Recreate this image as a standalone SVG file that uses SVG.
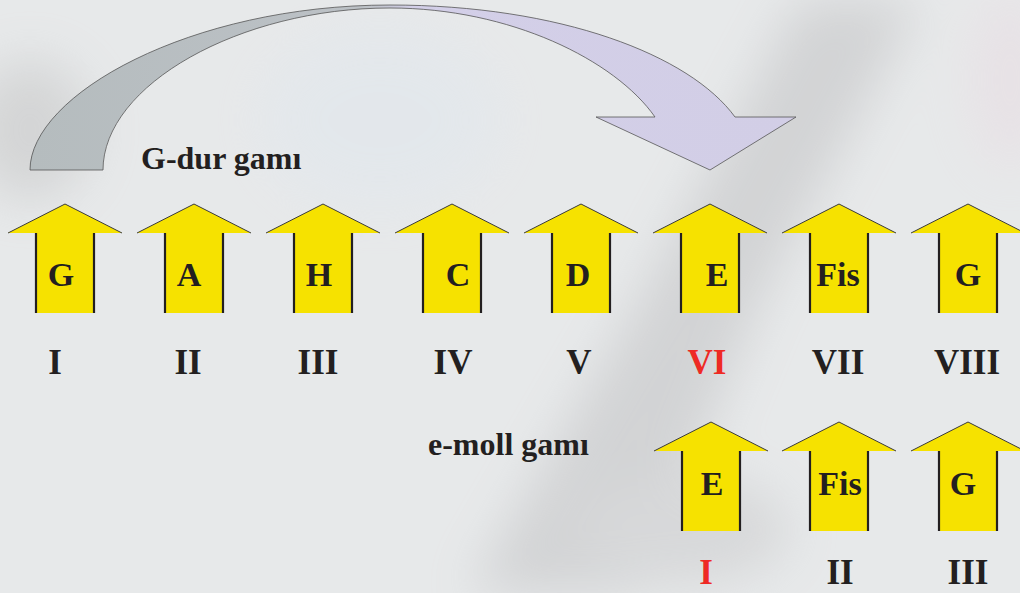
<svg xmlns="http://www.w3.org/2000/svg" width="1020" height="593" viewBox="0 0 1020 593">
<style>
.note{font-family:"Liberation Serif","Times New Roman",serif;font-weight:bold;font-size:34px;fill:#231f20;text-anchor:middle}
.num{font-family:"Liberation Serif","Times New Roman",serif;font-weight:bold;font-size:35px;fill:#231f20;text-anchor:middle}
.red{fill:#ee2a24}
.title{font-family:"Liberation Serif","Times New Roman",serif;font-weight:bold;font-size:32px;fill:#231f20}
.body{fill:#f6e200}
.head{fill:none;stroke:#3a3a3a;stroke-width:1}
.side{fill:none;stroke:#231f20;stroke-width:2.2}
</style>
<defs>
<filter id="blur" x="-50%" y="-50%" width="200%" height="200%"><feGaussianBlur stdDeviation="25"/></filter>
<linearGradient id="curve" x1="30" y1="0" x2="797" y2="0" gradientUnits="userSpaceOnUse">
<stop offset="0" stop-color="#b5bcbe"/>
<stop offset="0.44" stop-color="#bcc1c6"/>
<stop offset="0.5" stop-color="#d3cfe8"/>
<stop offset="1" stop-color="#d2cee6"/>
</linearGradient>
<g id="up">
<path class="body" d="M-57,29 L0,0 L57,29 L29,29 L29,109 L-29,109 L-29,29 Z"/>
<path class="head" d="M-57,29 L0,0 L57,29"/>
<path class="side" d="M-29,29 L-29,109 M29,29 L29,109"/>
</g>
</defs>
<g id="background">
<rect width="1020" height="593" fill="#e7e9ea"/>
<g filter="url(#blur)" opacity="0.45">
<path d="M470,593 L640,300 L800,0 L920,0 L760,300 L640,593 Z" fill="#b9b9bb"/>
<ellipse cx="30" cy="130" rx="60" ry="70" fill="#bdbdbd"/>
<ellipse cx="680" cy="530" rx="110" ry="55" fill="#c4c4c6"/>
<ellipse cx="1010" cy="80" rx="40" ry="90" fill="#e8d8e0"/>
<ellipse cx="380" cy="120" rx="120" ry="90" fill="#dfe6ee"/>
</g>
</g>
<g id="curved-arrow">
<path d="M30,170 C30,95 190,5 390,5 C560,5 690,55 735,117 L796,117 L710,170 L596,117 L655,117 C615,60 510,8 390,8 C240,8 103,85 103,170 Z" fill="url(#curve)" stroke="#555" stroke-width="0.8"/>
</g>
<text id="g-dur-title" class="title" x="141" y="169">G-dur gamı</text>
<text id="e-moll-title" class="title" x="428" y="455">e-moll gamı</text>
<g id="gdur-1"><use href="#up" x="65" y="204"/><text class="note" x="61" y="286">G</text><text class="num" x="55" y="374">I</text></g>
<g id="gdur-2"><use href="#up" x="194" y="204"/><text class="note" x="189" y="286">A</text><text class="num" x="188" y="374">II</text></g>
<g id="gdur-3"><use href="#up" x="323" y="204"/><text class="note" x="319" y="286">H</text><text class="num" x="318" y="374">III</text></g>
<g id="gdur-4"><use href="#up" x="452" y="204"/><text class="note" x="458" y="286">C</text><text class="num" x="453" y="374">IV</text></g>
<g id="gdur-5"><use href="#up" x="581" y="204"/><text class="note" x="578" y="286">D</text><text class="num" x="579" y="374">V</text></g>
<g id="gdur-6"><use href="#up" x="710" y="204"/><text class="note" x="717" y="286">E</text><text class="num red" x="707" y="374">VI</text></g>
<g id="gdur-7"><use href="#up" x="839" y="204"/><text class="note" x="838" y="286">Fis</text><text class="num" x="838" y="374">VII</text></g>
<g id="gdur-8"><use href="#up" x="968" y="204"/><text class="note" x="968" y="286">G</text><text class="num" x="967" y="374">VIII</text></g>
<g id="emoll-1"><use href="#up" x="711" y="422"/><text class="note" x="712" y="495">E</text><text class="num red" x="706" y="584">I</text></g>
<g id="emoll-2"><use href="#up" x="839" y="422"/><text class="note" x="840" y="495">Fis</text><text class="num" x="840" y="584">II</text></g>
<g id="emoll-3"><use href="#up" x="968" y="422"/><text class="note" x="963" y="495">G</text><text class="num" x="968" y="584">III</text></g>
</svg>
